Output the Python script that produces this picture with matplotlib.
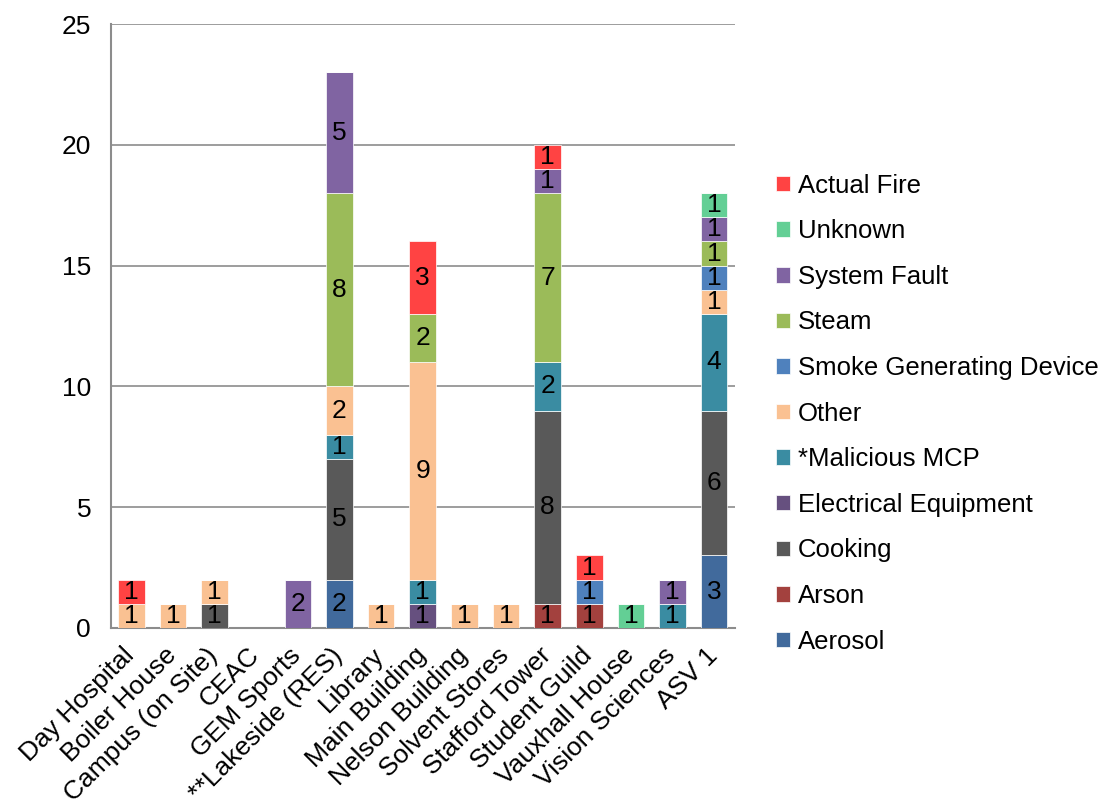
import numpy as np
import matplotlib
matplotlib.use("Agg")
import matplotlib.pyplot as plt
from matplotlib.transforms import ScaledTranslation

plt.rcParams['font.family'] = ['Liberation Sans', 'DejaVu Sans']

buildings = ["Day Hospital", "Boiler House", "Campus (on Site)", "CEAC", "GEM Sports",
             "**Lakeside (RES)", "Library", "Main Building", "Nelson Building",
             "Solvent Stores", "Stafford Tower", "Student Guild", "Vauxhall House",
             "Vision Sciences", "ASV 1"]

# counts per cause, one value per building (stacked bottom to top)
aerosol      = [0, 0, 0, 0, 0, 2, 0, 0, 0, 0, 0, 0, 0, 0, 3]
arson        = [0, 0, 0, 0, 0, 0, 0, 0, 0, 0, 1, 1, 0, 0, 0]
cooking      = [0, 0, 1, 0, 0, 5, 0, 0, 0, 0, 8, 0, 0, 0, 6]
electrical   = [0, 0, 0, 0, 0, 0, 0, 1, 0, 0, 0, 0, 0, 0, 0]
malicious    = [0, 0, 0, 0, 0, 1, 0, 1, 0, 0, 2, 0, 0, 1, 4]
other        = [1, 1, 1, 0, 0, 2, 1, 9, 1, 1, 0, 0, 0, 0, 1]
smoke_device = [0, 0, 0, 0, 0, 0, 0, 0, 0, 0, 0, 1, 0, 0, 1]
steam        = [0, 0, 0, 0, 0, 8, 0, 2, 0, 0, 7, 0, 0, 0, 1]
system_fault = [0, 0, 0, 0, 2, 5, 0, 0, 0, 0, 1, 0, 0, 1, 1]
unknown      = [0, 0, 0, 0, 0, 0, 0, 0, 0, 0, 0, 0, 1, 0, 1]
actual_fire  = [1, 0, 0, 0, 0, 0, 0, 3, 0, 0, 1, 1, 0, 0, 0]

series = [
    ("Aerosol", aerosol, "#416A9C"),
    ("Arson", arson, "#A3413E"),
    ("Cooking", cooking, "#595959"),
    ("Electrical Equipment", electrical, "#66507F"),
    ("*Malicious MCP", malicious, "#3A8CA2"),
    ("Other", other, "#FAC192"),
    ("Smoke Generating Device", smoke_device, "#4F81BD"),
    ("Steam", steam, "#9BBB59"),
    ("System Fault", system_fault, "#8064A2"),
    ("Unknown", unknown, "#63CF95"),
    ("Actual Fire", actual_fire, "#FF4343"),
]

FS = 19

fig = plt.figure(figsize=(11.11, 8.05), dpi=100)
ax = fig.add_axes([0.0995, 0.22, 0.562, 0.75])

x = np.arange(len(buildings))
bottom = np.zeros(len(buildings))
handles = []
for name, vals, color in series:
    vals = np.array(vals, dtype=float)
    bars = ax.bar(x, vals, 0.64, bottom=bottom, color=color, edgecolor="white",
                  linewidth=0.5, label=name, zorder=3)
    handles.append(bars)
    for xi, v, b in zip(x, vals, bottom):
        if v > 0:
            ax.text(xi, b + v / 2, f"{int(v)}", ha="center", va="center",
                    fontsize=FS, color="black", zorder=4)
    bottom += vals

ax.set_xlim(-0.5, len(buildings) - 0.5)
ax.set_ylim(0, 25)
ax.set_yticks(range(0, 26, 5))
ax.yaxis.grid(True, color="#8c8c8c", linewidth=1.2, zorder=0)
ax.set_axisbelow(True)
for side in ["top", "right"]:
    ax.spines[side].set_visible(False)
for side in ["left", "bottom"]:
    ax.spines[side].set_color("#8c8c8c")
    ax.spines[side].set_linewidth(1.5)
ax.tick_params(length=0, labelsize=FS, pad=14)
ax.set_xticks(x)
ax.set_xticklabels(buildings, rotation=45, ha="right", rotation_mode="anchor", fontsize=FS)
ax.tick_params(axis="x", pad=6)

# nudge the slanted building names down and to the left
shift = ScaledTranslation(-0.09, -0.07, fig.dpi_scale_trans)
for lbl in ax.get_xticklabels():
    lbl.set_transform(lbl.get_transform() + shift)

fig.legend(handles[::-1], [s[0] for s in series][::-1], loc="upper left",
           bbox_to_anchor=(0.689, 0.797), frameon=False, fontsize=18.5,
           handlelength=0.55, handleheight=0.55, handletextpad=0.3,
           labelspacing=0.84, borderaxespad=0)

fig.savefig("out.png", dpi=100)
